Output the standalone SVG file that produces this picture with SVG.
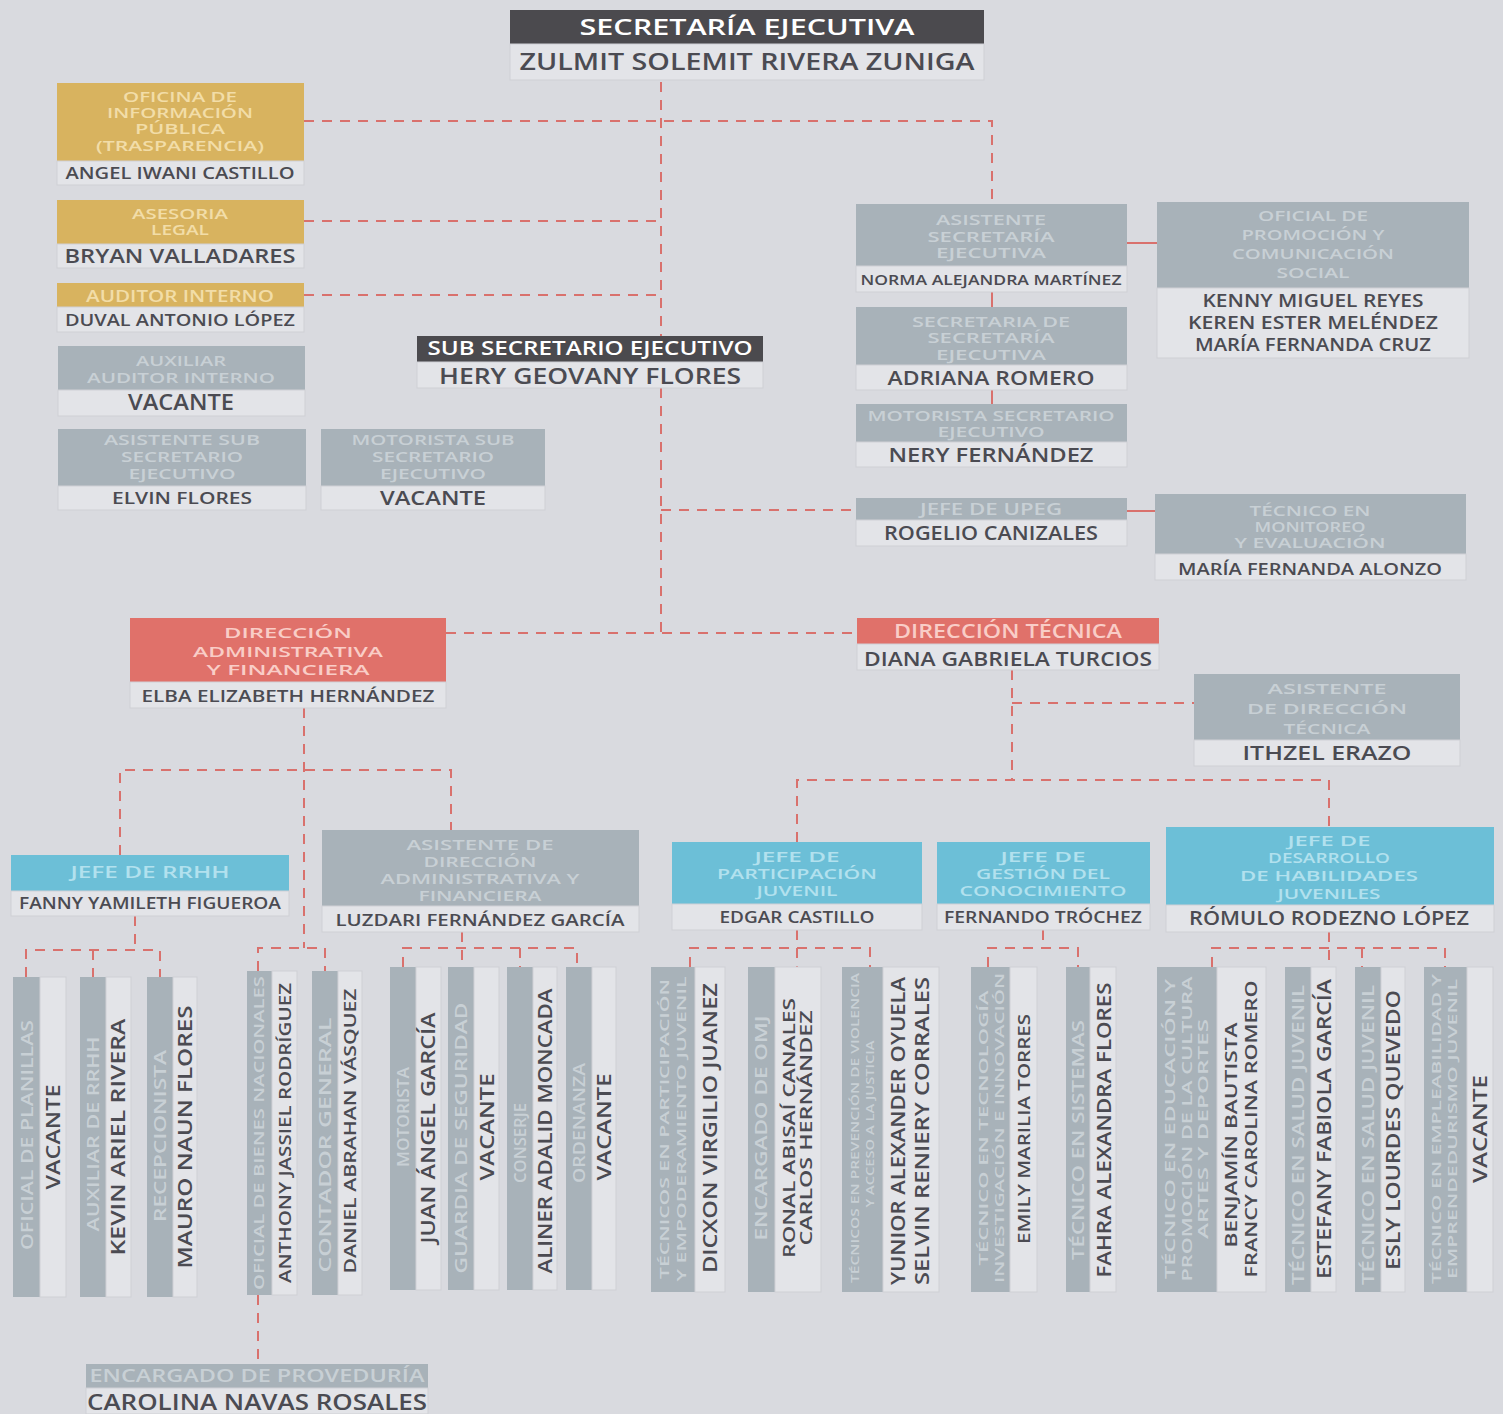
<svg xmlns="http://www.w3.org/2000/svg" width="1503" height="1414" viewBox="0 0 1503 1414">
<style>
text{font-family:"Open Sans","Liberation Sans",sans-serif;font-weight:600;text-anchor:middle}
.bg{fill:#d9dadf}
.dk{fill:#4b4a4e}.gd{fill:#d8b35f}.gy{fill:#a8b2b9}.rd{fill:#e0716a}.cy{fill:#6cbfd7}
.nb{fill:#e3e4e8;stroke:#cfd0d5;stroke-width:1}
.tw{fill:#ffffff}.tg{fill:#f2dda8}.ty{fill:#c8d0d5}.tr{fill:#f9cdc7}.tc{fill:#b2e1ee}
.tn{fill:#4b4b52}
.c{fill:none;stroke:#d9716d;stroke-width:2;stroke-dasharray:10 8}
.s{fill:none;stroke:#d9716d;stroke-width:2}
</style>
<rect class="bg" x="0" y="0" width="1503" height="1414"/>

<g id="connectors">
<path class="c" d="M661,82 V633"/>
<path class="c" d="M304,121 H992 V204"/>
<path class="c" d="M304,221 H661"/>
<path class="c" d="M304,295 H661"/>
<path class="c" d="M661,510 H856"/>
<path class="c" d="M446,633 H857"/>
<path class="c" d="M304,708 V948"/>
<path class="c" d="M120,855 V770 H451 V830"/>
<path class="c" d="M135,916 V950"/>
<path class="c" d="M26,977 V950 H160 V977"/>
<path class="c" d="M93,950 V977"/>
<path class="c" d="M258,971 V948 H325 V971"/>
<path class="c" d="M258,1295 V1364"/>
<path class="c" d="M462,932 V967"/>
<path class="c" d="M403,967 V948 H577 V967"/>
<path class="c" d="M520,948 V967"/>
<path class="c" d="M1012,670 V780"/>
<path class="c" d="M1012,703 H1194"/>
<path class="c" d="M797,842 V780 H1329 V827"/>
<path class="c" d="M797,930 V967"/>
<path class="c" d="M690,967 V948 H870 V967"/>
<path class="c" d="M1043,930 V948"/>
<path class="c" d="M988,967 V948 H1078 V967"/>
<path class="c" d="M1329,932 V967"/>
<path class="c" d="M1212,967 V948 H1445 V967"/>
<path class="c" d="M1362,948 V967"/>
<path class="s" d="M992,292 V307"/>
<path class="s" d="M992,390 V404"/>
<path class="s" d="M1127,243 H1157"/>
<path class="s" d="M1127,511 H1155"/>
</g>

<g id="secretaria-ejecutiva">
<rect class="dk" x="510" y="10" width="474" height="34"/>
<text class="tw" x="747" y="35" font-size="22" textLength="335" lengthAdjust="spacingAndGlyphs">SECRETARÍA EJECUTIVA</text>
<rect class="nb" x="510" y="44" width="474" height="36"/>
<text class="tn" x="747" y="70" font-size="24" textLength="455" lengthAdjust="spacingAndGlyphs">ZULMIT SOLEMIT RIVERA ZUNIGA</text>
</g>

<g id="oficina-informacion">
<rect class="gd" x="57" y="83" width="247" height="78"/>
<text class="tg" x="180" y="102" font-size="14" textLength="114" lengthAdjust="spacingAndGlyphs">OFICINA DE</text>
<text class="tg" x="180" y="118" font-size="14" textLength="146" lengthAdjust="spacingAndGlyphs">INFORMACIÓN</text>
<text class="tg" x="180" y="134" font-size="14" textLength="90" lengthAdjust="spacingAndGlyphs">PÚBLICA</text>
<text class="tg" x="180" y="151" font-size="14" textLength="168" lengthAdjust="spacingAndGlyphs">(TRASPARENCIA)</text>
<rect class="nb" x="57" y="161" width="247" height="24"/>
<text class="tn" x="180" y="179" font-size="16" textLength="229" lengthAdjust="spacingAndGlyphs">ANGEL IWANI CASTILLO</text>
</g>

<g id="asesoria-legal">
<rect class="gd" x="57" y="200" width="247" height="44"/>
<text class="tg" x="180" y="219" font-size="14" textLength="96" lengthAdjust="spacingAndGlyphs">ASESORIA</text>
<text class="tg" x="180" y="235" font-size="14" textLength="58" lengthAdjust="spacingAndGlyphs">LEGAL</text>
<rect class="nb" x="57" y="244" width="247" height="24"/>
<text class="tn" x="180" y="263" font-size="20" textLength="231" lengthAdjust="spacingAndGlyphs">BRYAN VALLADARES</text>
</g>

<g id="auditor-interno">
<rect class="gd" x="57" y="283" width="247" height="24"/>
<text class="tg" x="180" y="302" font-size="17" textLength="188" lengthAdjust="spacingAndGlyphs">AUDITOR INTERNO</text>
<rect class="nb" x="57" y="307" width="247" height="25"/>
<text class="tn" x="180" y="326" font-size="17" textLength="230" lengthAdjust="spacingAndGlyphs">DUVAL ANTONIO LÓPEZ</text>
</g>

<g id="auxiliar-auditor">
<rect class="gy" x="58" y="346" width="247" height="44"/>
<text class="ty" x="181" y="366" font-size="15" textLength="90" lengthAdjust="spacingAndGlyphs">AUXILIAR</text>
<text class="ty" x="181" y="383" font-size="15" textLength="188" lengthAdjust="spacingAndGlyphs">AUDITOR INTERNO</text>
<rect class="nb" x="58" y="390" width="247" height="26"/>
<text class="tn" x="181" y="410" font-size="21" textLength="106" lengthAdjust="spacingAndGlyphs">VACANTE</text>
</g>

<g id="asistente-sub">
<rect class="gy" x="58" y="429" width="248" height="57"/>
<text class="ty" x="182" y="445" font-size="15" textLength="156" lengthAdjust="spacingAndGlyphs">ASISTENTE SUB</text>
<text class="ty" x="182" y="462" font-size="15" textLength="122" lengthAdjust="spacingAndGlyphs">SECRETARIO</text>
<text class="ty" x="182" y="479" font-size="15" textLength="107" lengthAdjust="spacingAndGlyphs">EJECUTIVO</text>
<rect class="nb" x="58" y="486" width="248" height="24"/>
<text class="tn" x="182" y="504" font-size="17" textLength="140" lengthAdjust="spacingAndGlyphs">ELVIN FLORES</text>
</g>

<g id="motorista-sub">
<rect class="gy" x="321" y="429" width="224" height="57"/>
<text class="ty" x="433" y="445" font-size="15" textLength="163" lengthAdjust="spacingAndGlyphs">MOTORISTA SUB</text>
<text class="ty" x="433" y="462" font-size="15" textLength="122" lengthAdjust="spacingAndGlyphs">SECRETARIO</text>
<text class="ty" x="433" y="479" font-size="15" textLength="106" lengthAdjust="spacingAndGlyphs">EJECUTIVO</text>
<rect class="nb" x="321" y="486" width="224" height="24"/>
<text class="tn" x="433" y="505" font-size="20" textLength="106" lengthAdjust="spacingAndGlyphs">VACANTE</text>
</g>

<g id="sub-secretario">
<rect class="dk" x="417" y="336" width="346" height="26"/>
<text class="tw" x="590" y="355" font-size="19" textLength="325" lengthAdjust="spacingAndGlyphs">SUB SECRETARIO EJECUTIVO</text>
<rect class="nb" x="417" y="362" width="346" height="26"/>
<text class="tn" x="590" y="384" font-size="22" textLength="302" lengthAdjust="spacingAndGlyphs">HERY GEOVANY FLORES</text>
</g>

<g id="asistente-secretaria">
<rect class="gy" x="856" y="204" width="271" height="62"/>
<text class="ty" x="991" y="225" font-size="14" textLength="110" lengthAdjust="spacingAndGlyphs">ASISTENTE</text>
<text class="ty" x="991" y="242" font-size="14" textLength="127" lengthAdjust="spacingAndGlyphs">SECRETARÍA</text>
<text class="ty" x="991" y="258" font-size="14" textLength="110" lengthAdjust="spacingAndGlyphs">EJECUTIVA</text>
<rect class="nb" x="856" y="266" width="271" height="26"/>
<text class="tn" x="991" y="285" font-size="15" textLength="261" lengthAdjust="spacingAndGlyphs">NORMA ALEJANDRA MARTÍNEZ</text>
</g>

<g id="secretaria-de-secretaria">
<rect class="gy" x="856" y="307" width="271" height="58"/>
<text class="ty" x="991" y="327" font-size="14" textLength="158" lengthAdjust="spacingAndGlyphs">SECRETARIA DE</text>
<text class="ty" x="991" y="343" font-size="14" textLength="127" lengthAdjust="spacingAndGlyphs">SECRETARÍA</text>
<text class="ty" x="991" y="360" font-size="14" textLength="110" lengthAdjust="spacingAndGlyphs">EJECUTIVA</text>
<rect class="nb" x="856" y="365" width="271" height="25"/>
<text class="tn" x="991" y="385" font-size="20" textLength="207" lengthAdjust="spacingAndGlyphs">ADRIANA ROMERO</text>
</g>

<g id="motorista-secretario">
<rect class="gy" x="856" y="404" width="271" height="38"/>
<text class="ty" x="991" y="421" font-size="14" textLength="247" lengthAdjust="spacingAndGlyphs">MOTORISTA SECRETARIO</text>
<text class="ty" x="991" y="437" font-size="14" textLength="107" lengthAdjust="spacingAndGlyphs">EJECUTIVO</text>
<rect class="nb" x="856" y="442" width="271" height="25"/>
<text class="tn" x="991" y="462" font-size="20" textLength="205" lengthAdjust="spacingAndGlyphs">NERY FERNÁNDEZ</text>
</g>

<g id="oficial-promocion">
<rect class="gy" x="1157" y="202" width="312" height="86"/>
<text class="ty" x="1313" y="221" font-size="15" textLength="110" lengthAdjust="spacingAndGlyphs">OFICIAL DE</text>
<text class="ty" x="1313" y="240" font-size="15" textLength="143" lengthAdjust="spacingAndGlyphs">PROMOCIÓN Y</text>
<text class="ty" x="1313" y="259" font-size="15" textLength="162" lengthAdjust="spacingAndGlyphs">COMUNICACIÓN</text>
<text class="ty" x="1313" y="278" font-size="15" textLength="73" lengthAdjust="spacingAndGlyphs">SOCIAL</text>
<rect class="nb" x="1157" y="288" width="312" height="70"/>
<text class="tn" x="1313" y="307" font-size="18" textLength="221" lengthAdjust="spacingAndGlyphs">KENNY MIGUEL REYES</text>
<text class="tn" x="1313" y="329" font-size="18" textLength="250" lengthAdjust="spacingAndGlyphs">KEREN ESTER MELÉNDEZ</text>
<text class="tn" x="1313" y="351" font-size="18" textLength="236" lengthAdjust="spacingAndGlyphs">MARÍA FERNANDA CRUZ</text>
</g>

<g id="jefe-upeg">
<rect class="gy" x="856" y="498" width="271" height="22"/>
<text class="ty" x="991" y="515" font-size="17" textLength="142" lengthAdjust="spacingAndGlyphs">JEFE DE UPEG</text>
<rect class="nb" x="856" y="520" width="271" height="26"/>
<text class="tn" x="991" y="540" font-size="19" textLength="214" lengthAdjust="spacingAndGlyphs">ROGELIO CANIZALES</text>
</g>

<g id="tecnico-monitoreo">
<rect class="gy" x="1155" y="494" width="311" height="60"/>
<text class="ty" x="1310" y="516" font-size="14" textLength="121" lengthAdjust="spacingAndGlyphs">TÉCNICO EN</text>
<text class="ty" x="1310" y="532" font-size="14" textLength="111" lengthAdjust="spacingAndGlyphs">MONITOREO</text>
<text class="ty" x="1310" y="548" font-size="14" textLength="151" lengthAdjust="spacingAndGlyphs">Y EVALUACIÓN</text>
<rect class="nb" x="1155" y="554" width="311" height="26"/>
<text class="tn" x="1310" y="575" font-size="16" textLength="264" lengthAdjust="spacingAndGlyphs">MARÍA FERNANDA ALONZO</text>
</g>

<g id="direccion-administrativa">
<rect class="rd" x="130" y="618" width="316" height="64"/>
<text class="tr" x="288" y="638" font-size="15" textLength="128" lengthAdjust="spacingAndGlyphs">DIRECCIÓN</text>
<text class="tr" x="288" y="657" font-size="15" textLength="190" lengthAdjust="spacingAndGlyphs">ADMINISTRATIVA</text>
<text class="tr" x="288" y="675" font-size="15" textLength="163" lengthAdjust="spacingAndGlyphs">Y FINANCIERA</text>
<rect class="nb" x="130" y="682" width="316" height="26"/>
<text class="tn" x="288" y="702" font-size="17" textLength="293" lengthAdjust="spacingAndGlyphs">ELBA ELIZABETH HERNÁNDEZ</text>
</g>

<g id="direccion-tecnica">
<rect class="rd" x="857" y="618" width="302" height="26"/>
<text class="tr" x="1008" y="638" font-size="19" textLength="228" lengthAdjust="spacingAndGlyphs">DIRECCIÓN TÉCNICA</text>
<rect class="nb" x="857" y="644" width="302" height="26"/>
<text class="tn" x="1008" y="666" font-size="19" textLength="288" lengthAdjust="spacingAndGlyphs">DIANA GABRIELA TURCIOS</text>
</g>

<g id="asistente-direccion-tecnica">
<rect class="gy" x="1194" y="674" width="266" height="66"/>
<text class="ty" x="1327" y="694" font-size="15" textLength="119" lengthAdjust="spacingAndGlyphs">ASISTENTE</text>
<text class="ty" x="1327" y="714" font-size="15" textLength="160" lengthAdjust="spacingAndGlyphs">DE DIRECCIÓN</text>
<text class="ty" x="1327" y="734" font-size="15" textLength="87" lengthAdjust="spacingAndGlyphs">TÉCNICA</text>
<rect class="nb" x="1194" y="740" width="266" height="26"/>
<text class="tn" x="1327" y="760" font-size="20" textLength="169" lengthAdjust="spacingAndGlyphs">ITHZEL ERAZO</text>
</g>

<g id="jefe-rrhh">
<rect class="cy" x="11" y="855" width="278" height="36"/>
<text class="tc" x="150" y="878" font-size="17" textLength="159" lengthAdjust="spacingAndGlyphs">JEFE DE RRHH</text>
<rect class="nb" x="11" y="891" width="278" height="25"/>
<text class="tn" x="150" y="909" font-size="16" textLength="262" lengthAdjust="spacingAndGlyphs">FANNY YAMILETH FIGUEROA</text>
</g>

<g id="asistente-daf">
<rect class="gy" x="322" y="830" width="317" height="76"/>
<text class="ty" x="480" y="850" font-size="15" textLength="147" lengthAdjust="spacingAndGlyphs">ASISTENTE DE</text>
<text class="ty" x="480" y="867" font-size="15" textLength="113" lengthAdjust="spacingAndGlyphs">DIRECCIÓN</text>
<text class="ty" x="480" y="884" font-size="15" textLength="199" lengthAdjust="spacingAndGlyphs">ADMINISTRATIVA Y</text>
<text class="ty" x="480" y="901" font-size="15" textLength="123" lengthAdjust="spacingAndGlyphs">FINANCIERA</text>
<rect class="nb" x="322" y="906" width="317" height="26"/>
<text class="tn" x="480" y="926" font-size="17" textLength="289" lengthAdjust="spacingAndGlyphs">LUZDARI FERNÁNDEZ GARCÍA</text>
</g>

<g id="jefe-participacion">
<rect class="cy" x="672" y="842" width="250" height="62"/>
<text class="tc" x="797" y="862" font-size="15" textLength="85" lengthAdjust="spacingAndGlyphs">JEFE DE</text>
<text class="tc" x="797" y="879" font-size="15" textLength="160" lengthAdjust="spacingAndGlyphs">PARTICIPACIÓN</text>
<text class="tc" x="797" y="896" font-size="15" textLength="81" lengthAdjust="spacingAndGlyphs">JUVENIL</text>
<rect class="nb" x="672" y="904" width="250" height="26"/>
<text class="tn" x="797" y="923" font-size="16" textLength="155" lengthAdjust="spacingAndGlyphs">EDGAR CASTILLO</text>
</g>

<g id="jefe-gestion">
<rect class="cy" x="937" y="842" width="213" height="62"/>
<text class="tc" x="1043" y="862" font-size="15" textLength="85" lengthAdjust="spacingAndGlyphs">JEFE DE</text>
<text class="tc" x="1043" y="879" font-size="15" textLength="134" lengthAdjust="spacingAndGlyphs">GESTIÓN DEL</text>
<text class="tc" x="1043" y="896" font-size="15" textLength="167" lengthAdjust="spacingAndGlyphs">CONOCIMIENTO</text>
<rect class="nb" x="937" y="904" width="213" height="26"/>
<text class="tn" x="1043" y="923" font-size="16" textLength="198" lengthAdjust="spacingAndGlyphs">FERNANDO TRÓCHEZ</text>
</g>

<g id="jefe-desarrollo">
<rect class="cy" x="1166" y="827" width="328" height="78"/>
<text class="tc" x="1329" y="846" font-size="15" textLength="83" lengthAdjust="spacingAndGlyphs">JEFE DE</text>
<text class="tc" x="1329" y="863" font-size="15" textLength="122" lengthAdjust="spacingAndGlyphs">DESARROLLO</text>
<text class="tc" x="1329" y="881" font-size="15" textLength="178" lengthAdjust="spacingAndGlyphs">DE HABILIDADES</text>
<text class="tc" x="1329" y="899" font-size="15" textLength="103" lengthAdjust="spacingAndGlyphs">JUVENILES</text>
<rect class="nb" x="1166" y="905" width="328" height="27"/>
<text class="tn" x="1329" y="925" font-size="19" textLength="280" lengthAdjust="spacingAndGlyphs">RÓMULO RODEZNO LÓPEZ</text>
</g>

<g id="oficial-planillas">
<rect class="gy" x="13" y="977" width="27" height="320"/><rect class="nb" x="40" y="977" width="26" height="320"/>
<text class="ty" x="33" y="1135" font-size="16" transform="rotate(-90 33 1135)" textLength="230" lengthAdjust="spacingAndGlyphs">OFICIAL DE PLANILLAS</text>
<text class="tn" x="60" y="1137" font-size="19" transform="rotate(-90 60 1137)" textLength="105" lengthAdjust="spacingAndGlyphs">VACANTE</text>
</g>
<g id="auxiliar-rrhh">
<rect class="gy" x="80" y="977" width="26" height="320"/><rect class="nb" x="106" y="977" width="25" height="320"/>
<text class="ty" x="99" y="1134" font-size="16" transform="rotate(-90 99 1134)" textLength="195" lengthAdjust="spacingAndGlyphs">AUXILIAR DE RRHH</text>
<text class="tn" x="125" y="1137" font-size="19" transform="rotate(-90 125 1137)" textLength="237" lengthAdjust="spacingAndGlyphs">KEVIN ARIEL RIVERA</text>
</g>
<g id="recepcionista">
<rect class="gy" x="147" y="977" width="26" height="320"/><rect class="nb" x="173" y="977" width="24" height="320"/>
<text class="ty" x="166" y="1136" font-size="16" transform="rotate(-90 166 1136)" textLength="172" lengthAdjust="spacingAndGlyphs">RECEPCIONISTA</text>
<text class="tn" x="192" y="1137" font-size="19" transform="rotate(-90 192 1137)" textLength="263" lengthAdjust="spacingAndGlyphs">MAURO NAUN FLORES</text>
</g>
<g id="oficial-bienes">
<rect class="gy" x="247" y="971" width="25" height="324"/><rect class="nb" x="272" y="971" width="25" height="324"/>
<text class="ty" x="264" y="1133" font-size="15" transform="rotate(-90 264 1133)" textLength="314" lengthAdjust="spacingAndGlyphs">OFICIAL DE BIENES NACIONALES</text>
<text class="tn" x="291" y="1133" font-size="17" transform="rotate(-90 291 1133)" textLength="300" lengthAdjust="spacingAndGlyphs">ANTHONY JASSIEL RODRÍGUEZ</text>
</g>
<g id="contador-general">
<rect class="gy" x="312" y="971" width="26" height="324"/><rect class="nb" x="338" y="971" width="24" height="324"/>
<text class="ty" x="331" y="1145" font-size="16" transform="rotate(-90 331 1145)" textLength="255" lengthAdjust="spacingAndGlyphs">CONTADOR GENERAL</text>
<text class="tn" x="356" y="1131" font-size="17" transform="rotate(-90 356 1131)" textLength="285" lengthAdjust="spacingAndGlyphs">DANIEL ABRAHAN VÁSQUEZ</text>
</g>
<g id="motorista">
<rect class="gy" x="390" y="967" width="26" height="323"/><rect class="nb" x="416" y="967" width="25" height="323"/>
<text class="ty" x="409" y="1117" font-size="16" transform="rotate(-90 409 1117)" textLength="100" lengthAdjust="spacingAndGlyphs">MOTORISTA</text>
<text class="tn" x="435" y="1128" font-size="19" transform="rotate(-90 435 1128)" textLength="231" lengthAdjust="spacingAndGlyphs">JUAN ÁNGEL GARCÍA</text>
</g>
<g id="guardia">
<rect class="gy" x="448" y="967" width="26" height="323"/><rect class="nb" x="474" y="967" width="25" height="323"/>
<text class="ty" x="467" y="1138" font-size="16" transform="rotate(-90 467 1138)" textLength="271" lengthAdjust="spacingAndGlyphs">GUARDIA DE SEGURIDAD</text>
<text class="tn" x="494" y="1127" font-size="19" transform="rotate(-90 494 1127)" textLength="107" lengthAdjust="spacingAndGlyphs">VACANTE</text>
</g>
<g id="conserje">
<rect class="gy" x="507" y="967" width="26" height="323"/><rect class="nb" x="533" y="967" width="24" height="323"/>
<text class="ty" x="526" y="1143" font-size="16" transform="rotate(-90 526 1143)" textLength="80" lengthAdjust="spacingAndGlyphs">CONSERJE</text>
<text class="tn" x="552" y="1131" font-size="19" transform="rotate(-90 552 1131)" textLength="285" lengthAdjust="spacingAndGlyphs">ALINER ADALID MONCADA</text>
</g>
<g id="ordenanza">
<rect class="gy" x="566" y="967" width="26" height="323"/><rect class="nb" x="592" y="967" width="24" height="323"/>
<text class="ty" x="585" y="1123" font-size="16" transform="rotate(-90 585 1123)" textLength="120" lengthAdjust="spacingAndGlyphs">ORDENANZA</text>
<text class="tn" x="611" y="1127" font-size="19" transform="rotate(-90 611 1127)" textLength="107" lengthAdjust="spacingAndGlyphs">VACANTE</text>
</g>
<g id="tecnicos-participacion">
<rect class="gy" x="651" y="967" width="44" height="325"/><rect class="nb" x="695" y="967" width="30" height="325"/>
<text class="ty" x="669" y="1129" font-size="13" transform="rotate(-90 669 1129)" textLength="300" lengthAdjust="spacingAndGlyphs">TÉCNICOS EN PARTICIPACIÓN</text>
<text class="ty" x="686" y="1129" font-size="13" transform="rotate(-90 686 1129)" textLength="305" lengthAdjust="spacingAndGlyphs">Y EMPODERAMIENTO JUVENIL</text>
<text class="tn" x="717" y="1128" font-size="19" transform="rotate(-90 717 1128)" textLength="290" lengthAdjust="spacingAndGlyphs">DICXON VIRGILIO JUANEZ</text>
</g>
<g id="encargado-omj">
<rect class="gy" x="748" y="967" width="27" height="325"/><rect class="nb" x="775" y="967" width="46" height="325"/>
<text class="ty" x="767" y="1128" font-size="16" transform="rotate(-90 767 1128)" textLength="225" lengthAdjust="spacingAndGlyphs">ENCARGADO DE OMJ</text>
<text class="tn" x="795" y="1128" font-size="16" transform="rotate(-90 795 1128)" textLength="260" lengthAdjust="spacingAndGlyphs">RONAL ABISAÍ CANALES</text>
<text class="tn" x="812" y="1128" font-size="16" transform="rotate(-90 812 1128)" textLength="235" lengthAdjust="spacingAndGlyphs">CARLOS HERNÁNDEZ</text>
</g>
<g id="tecnicos-prevencion">
<rect class="gy" x="842" y="967" width="41" height="325"/><rect class="nb" x="883" y="967" width="56" height="325"/>
<text class="ty" x="859" y="1128" font-size="10" transform="rotate(-90 859 1128)" textLength="310" lengthAdjust="spacingAndGlyphs">TÉCNICOS EN PREVENCIÓN DE VIOLENCIA</text>
<text class="ty" x="874" y="1124" font-size="10" transform="rotate(-90 874 1124)" textLength="167" lengthAdjust="spacingAndGlyphs">Y ACCESO A LA JUSTICIA</text>
<text class="tn" x="905" y="1131" font-size="19" transform="rotate(-90 905 1131)" textLength="308" lengthAdjust="spacingAndGlyphs">YUNIOR ALEXANDER OYUELA</text>
<text class="tn" x="929" y="1131" font-size="19" transform="rotate(-90 929 1131)" textLength="308" lengthAdjust="spacingAndGlyphs">SELVIN RENIERY CORRALES</text>
</g>
<g id="tecnico-tecnologia">
<rect class="gy" x="971" y="967" width="39" height="325"/><rect class="nb" x="1010" y="967" width="27" height="325"/>
<text class="ty" x="988" y="1128" font-size="13" transform="rotate(-90 988 1128)" textLength="275" lengthAdjust="spacingAndGlyphs">TÉCNICO EN TECNOLOGÍA</text>
<text class="ty" x="1004" y="1128" font-size="13" transform="rotate(-90 1004 1128)" textLength="310" lengthAdjust="spacingAndGlyphs">INVESTIGACIÓN E INNOVACIÓN</text>
<text class="tn" x="1030" y="1129" font-size="17" transform="rotate(-90 1030 1129)" textLength="230" lengthAdjust="spacingAndGlyphs">EMILY MARILIA TORRES</text>
</g>
<g id="tecnico-sistemas">
<rect class="gy" x="1066" y="967" width="24" height="325"/><rect class="nb" x="1090" y="967" width="26" height="325"/>
<text class="ty" x="1084" y="1140" font-size="16" transform="rotate(-90 1084 1140)" textLength="240" lengthAdjust="spacingAndGlyphs">TÉCNICO EN SISTEMAS</text>
<text class="tn" x="1111" y="1130" font-size="19" transform="rotate(-90 1111 1130)" textLength="295" lengthAdjust="spacingAndGlyphs">FAHRA ALEXANDRA FLORES</text>
</g>
<g id="tecnico-educacion">
<rect class="gy" x="1157" y="967" width="60" height="325"/><rect class="nb" x="1217" y="967" width="49" height="325"/>
<text class="ty" x="1175" y="1129" font-size="14" transform="rotate(-90 1175 1129)" textLength="300" lengthAdjust="spacingAndGlyphs">TÉCNICO EN EDUCACIÓN Y</text>
<text class="ty" x="1192" y="1129" font-size="14" transform="rotate(-90 1192 1129)" textLength="305" lengthAdjust="spacingAndGlyphs">PROMOCIÓN DE LA CULTURA</text>
<text class="ty" x="1208" y="1129" font-size="14" transform="rotate(-90 1208 1129)" textLength="220" lengthAdjust="spacingAndGlyphs">ARTES Y DEPORTES</text>
<text class="tn" x="1237" y="1135" font-size="17" transform="rotate(-90 1237 1135)" textLength="225" lengthAdjust="spacingAndGlyphs">BENJAMÍN BAUTISTA</text>
<text class="tn" x="1257" y="1129" font-size="17" transform="rotate(-90 1257 1129)" textLength="297" lengthAdjust="spacingAndGlyphs">FRANCY CAROLINA ROMERO</text>
</g>
<g id="tecnico-salud-1">
<rect class="gy" x="1285" y="967" width="26" height="325"/><rect class="nb" x="1311" y="967" width="25" height="325"/>
<text class="ty" x="1304" y="1135" font-size="16" transform="rotate(-90 1304 1135)" textLength="300" lengthAdjust="spacingAndGlyphs">TÉCNICO EN SALUD JUVENIL</text>
<text class="tn" x="1331" y="1129" font-size="19" transform="rotate(-90 1331 1129)" textLength="300" lengthAdjust="spacingAndGlyphs">ESTEFANY FABIOLA GARCÍA</text>
</g>
<g id="tecnico-salud-2">
<rect class="gy" x="1355" y="967" width="26" height="325"/><rect class="nb" x="1381" y="967" width="24" height="325"/>
<text class="ty" x="1374" y="1135" font-size="16" transform="rotate(-90 1374 1135)" textLength="300" lengthAdjust="spacingAndGlyphs">TÉCNICO EN SALUD JUVENIL</text>
<text class="tn" x="1400" y="1130" font-size="19" transform="rotate(-90 1400 1130)" textLength="280" lengthAdjust="spacingAndGlyphs">ESLY LOURDES QUEVEDO</text>
</g>
<g id="tecnico-empleabilidad">
<rect class="gy" x="1424" y="967" width="43" height="325"/><rect class="nb" x="1467" y="967" width="26" height="325"/>
<text class="ty" x="1441" y="1129" font-size="13" transform="rotate(-90 1441 1129)" textLength="310" lengthAdjust="spacingAndGlyphs">TÉCNICO EN EMPLEABILIDAD Y</text>
<text class="ty" x="1457" y="1129" font-size="13" transform="rotate(-90 1457 1129)" textLength="300" lengthAdjust="spacingAndGlyphs">EMPRENDEDURISMO JUVENIL</text>
<text class="tn" x="1487" y="1129" font-size="19" transform="rotate(-90 1487 1129)" textLength="108" lengthAdjust="spacingAndGlyphs">VACANTE</text>
</g>

<g id="encargado-proveduria">
<rect class="gy" x="86" y="1364" width="342" height="24"/>
<text class="ty" x="257" y="1382" font-size="18" textLength="335" lengthAdjust="spacingAndGlyphs">ENCARGADO DE PROVEDURÍA</text>
<rect class="nb" x="86" y="1388" width="342" height="26"/>
<text class="tn" x="257" y="1410" font-size="22" textLength="340" lengthAdjust="spacingAndGlyphs">CAROLINA NAVAS ROSALES</text>
</g>
</svg>
